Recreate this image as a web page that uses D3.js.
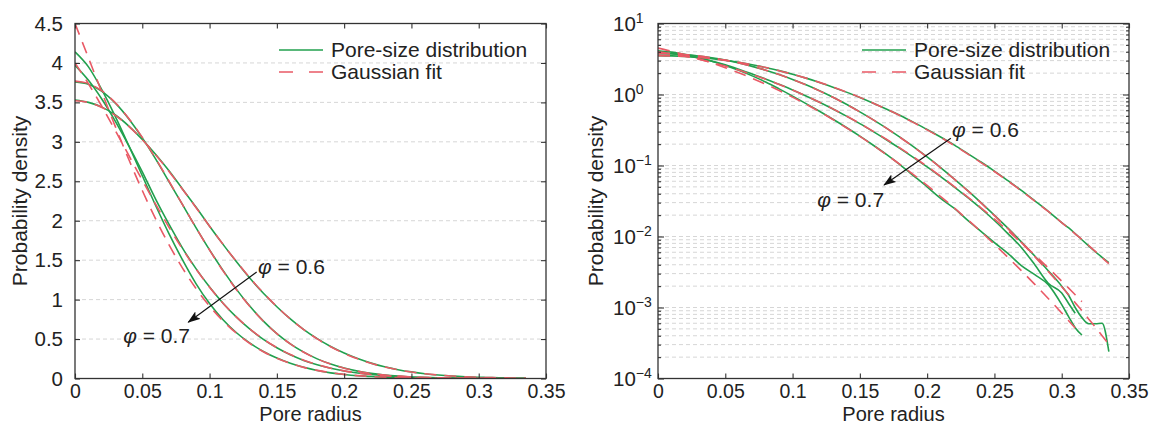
<!DOCTYPE html>
<html>
<head>
<meta charset="utf-8">
<script src="https://cdn.jsdelivr.net/npm/d3@7"></script>
<style>
  body { margin: 0; background: #fff; }
  text { font-family: "Liberation Sans", Arial, sans-serif; fill: #222; }
</style>
</head>
<body>
<svg id="chart" width="1153" height="425"></svg>
<script>
// pore radius grid (shared by every series)
const radius = [0,0.01,0.02,0.03,0.04,0.05,0.06,0.07,0.08,0.09,0.10,0.11,0.12,0.13,0.14,0.15,0.16,0.17,0.18,0.19,
  0.20,0.21,0.22,0.23,0.24,0.25,0.26,0.27,0.28,0.29,0.30,0.305,0.31,0.315,0.32,0.325,0.33,0.335];

// pore-size distributions, psd1 = phi 0.6 ... psd4 = phi 0.7
const psd1 = [3.53,3.50,3.44,3.34,3.20,3.03,2.84,2.63,2.40,2.17,1.93,1.70,1.48,1.27,1.08,0.91,0.755,0.62,0.505,0.405,
  0.322,0.252,0.195,0.148,0.112,0.0835,0.0612,0.0445,0.0318,0.0226,0.0157,0.0133,0.0110,0.0090,0.0074,0.0061,0.0051,0.0043];
const psd2 = [3.76,3.73,3.64,3.49,3.29,3.05,2.78,2.49,2.20,1.91,1.63,1.37,1.13,0.915,0.728,0.57,0.44,0.334,0.249,0.183,
  0.132,0.0935,0.0650,0.0446,0.0300,0.0199,0.0131,0.0084,0.0053,0.0033,0.0020,0.0015,0.0010,0.00072,0.00059,0.00059,0.00060,0.00024];
const psd3 = [3.97,3.78,3.54,3.26,2.95,2.62,2.27,1.95,1.65,1.39,1.16,0.955,0.778,0.625,0.496,0.389,0.300,0.229,0.173,0.129,
  0.0955,0.0695,0.0500,0.0355,0.0248,0.0168,0.0110,0.0070,0.0040,0.0022,0.0016,0.00115,0.00083,null,null,null,null,null];
const psd4 = [4.14,3.95,3.66,3.32,2.95,2.57,2.19,1.83,1.50,1.20,0.95,0.745,0.58,0.448,0.343,0.259,0.193,0.142,0.102,0.0715,
  0.0500,0.0345,0.0250,0.0170,0.0118,0.0082,0.0058,0.0039,0.0029,0.0021,0.0011,0.00075,0.00052,0.00041,null,null,null,null];

// gaussian fits
const fit1 = [3.52,3.499,3.436,3.335,3.197,3.028,2.834,2.622,2.397,2.165,1.930,1.701,1.482,1.275,1.084,0.911,0.755,0.620,0.502,0.402,
  0.318,0.249,0.192,0.146,0.110,0.0823,0.0605,0.0440,0.0316,0.0225,0.0157,0.0131,0.0109,0.00906,0.00747,0.00616,0.00505,0.00414];
const fit2 = [3.77,3.738,3.645,3.495,3.296,3.056,2.786,2.497,2.201,1.908,1.628,1.364,1.125,0.912,0.726,0.569,0.439,0.333,0.248,0.182,
  0.131,0.0929,0.0646,0.0443,0.0298,0.0197,0.0129,0.00826,0.00520,0.00322,0.00196,0.00152,0.00117,0.000905,0.00069,0.000528,0.000401,0.000303];
const fit3 = [4.0,3.736,3.448,3.141,2.827,2.513,2.206,1.913,1.638,1.386,1.158,0.955,0.778,0.627,0.498,0.391,0.303,0.232,0.176,0.131,
  0.0969,0.0706,0.0508,0.0361,0.0254,0.0176,0.0121,0.00818,0.00547,0.00361,0.00235,0.00189,0.00151,0.00121,null,null,null,null];
const fit4 = [4.5,4.065,3.626,3.193,2.776,2.383,2.020,1.690,1.397,1.139,0.918,0.730,0.573,0.444,0.340,0.257,0.192,0.141,0.103,0.0738,
  0.0523,0.0366,0.0254,0.0173,0.0117,0.00775,0.00509,0.0033,0.00212,0.00134,0.000836,0.000657,0.000515,null,null,null,null,null];

const xTicks = [0,0.05,0.1,0.15,0.2,0.25,0.3,0.35];
const linTicks = [0,0.5,1,1.5,2,2.5,3,3.5,4,4.5];
const logTicks = [1e-4,1e-3,1e-2,1e-1,1,10];
const legendLabels = ["Pore-size distribution", "Gaussian fit"];
const phiLabels = ["0.6", "0.7"];

const green = "#22a04e", red = "#e95a66", ink = "#333";
const plotTop = 23.5, plotBottom = 378.5, plotW = 471;
const svg = d3.select("#chart");

const defs = svg.append("defs");
defs.append("marker")
  .attr("id", "arrow").attr("viewBox", "0 0 13 9")
  .attr("refX", 12).attr("refY", 4.5)
  .attr("markerWidth", 13).attr("markerHeight", 9)
  .attr("markerUnits", "userSpaceOnUse").attr("orient", "auto")
  .append("path").attr("d", "M0,0 L13,4.5 L0,9 L3,4.5 Z").attr("fill", "#111");

function styleAxis(sel) {
  sel.select(".domain").remove();
  sel.selectAll(".tick line").attr("stroke", ink).attr("stroke-width", 1.1);
  sel.selectAll("text").style("font-size", "19.5px");
}

function drawPanel(p) {
  const left = p.left, right = left + plotW;
  const x = d3.scaleLinear().domain([0, 0.35]).range([left, right]);
  const y = p.log
    ? d3.scaleLog().domain([1e-4, 10]).range([plotBottom, plotTop])
    : d3.scaleLinear().domain([0, 4.5]).range([plotBottom, plotTop]);
  const g = svg.append("g");

  // grid
  let minor = [];
  if (p.log) {
    for (let k = -4; k < 1; k++) for (let m = 2; m < 10; m++) minor.push(m * Math.pow(10, k));
  }
  const gridVals = p.log ? minor.concat(logTicks.slice(1, -1)) : linTicks.slice(1, -1);
  g.append("g").selectAll("line").data(gridVals).join("line")
    .attr("x1", left).attr("x2", right)
    .attr("y1", d => y(d)).attr("y2", d => y(d))
    .attr("stroke", "#d6d6d6").attr("stroke-width", 1).attr("stroke-dasharray", "4,3");

  // curves
  const clipId = "clip" + left;
  defs.append("clipPath").attr("id", clipId).append("rect")
    .attr("x", left).attr("y", plotTop).attr("width", plotW).attr("height", plotBottom - plotTop);
  const line = d3.line()
    .defined(d => d[1] != null)
    .x(d => x(d[0])).y(d => y(d[1]))
    .curve(d3.curveMonotoneX);
  const curves = g.append("g").attr("clip-path", `url(#${clipId})`);
  [psd1, psd2, psd3, psd4].forEach(s => {
    curves.append("path").datum(radius.map((r, i) => [r, s[i]]))
      .attr("d", line).attr("fill", "none").attr("stroke", green).attr("stroke-width", 1.6);
  });
  [fit1, fit2, fit3, fit4].forEach(s => {
    curves.append("path").datum(radius.map((r, i) => [r, s[i]]))
      .attr("d", line).attr("fill", "none").attr("stroke", red).attr("stroke-width", 1.6)
      .attr("stroke-dasharray", "12,8");
  });

  // axes (ticks point inward)
  g.append("g").attr("transform", `translate(0,${plotBottom})`)
    .call(d3.axisBottom(x).tickValues(xTicks).tickSize(-5).tickPadding(6).tickFormat(d3.format("~g")))
    .call(styleAxis);
  g.append("g").attr("transform", `translate(0,${plotTop})`)
    .call(d3.axisTop(x).tickValues(xTicks).tickSize(-5).tickFormat(""))
    .call(styleAxis);

  if (p.log) {
    g.append("g").attr("transform", `translate(${left},0)`)
      .call(d3.axisLeft(y).tickValues(logTicks).tickSize(-6).tickFormat(""))
      .call(styleAxis);
    g.append("g").attr("transform", `translate(${left},0)`)
      .call(d3.axisLeft(y).tickValues(minor).tickSize(-3).tickFormat(""))
      .call(styleAxis);
    g.append("g").attr("transform", `translate(${right},0)`)
      .call(d3.axisRight(y).tickValues(logTicks).tickSize(-6).tickFormat(""))
      .call(styleAxis);
    g.append("g").attr("transform", `translate(${right},0)`)
      .call(d3.axisRight(y).tickValues(minor).tickSize(-3).tickFormat(""))
      .call(styleAxis);
    const lab = g.append("g").selectAll("text").data(logTicks).join("text")
      .attr("x", left - 45).attr("y", d => y(d)).attr("dy", "0.35em")
      .style("font-size", "20.5px");
    lab.append("tspan").text("10");
    lab.append("tspan").attr("dy", "-0.55em").style("font-size", "14px")
      .text(d => String(Math.round(Math.log10(d))).replace("-", "\u2212"));
  } else {
    g.append("g").attr("transform", `translate(${left},0)`)
      .call(d3.axisLeft(y).tickValues(linTicks).tickSize(-5).tickPadding(12).tickFormat(d3.format("~g")))
      .call(sel => { styleAxis(sel); sel.selectAll("text").style("font-size", "20.5px"); });
    g.append("g").attr("transform", `translate(${right},0)`)
      .call(d3.axisRight(y).tickValues(linTicks).tickSize(-5).tickFormat(""))
      .call(styleAxis);
  }

  // frame
  g.append("rect").attr("x", left).attr("y", plotTop).attr("width", plotW).attr("height", plotBottom - plotTop)
    .attr("fill", "none").attr("stroke", ink).attr("stroke-width", 1.3);

  // axis titles
  g.append("text").attr("x", (left + right) / 2).attr("y", 420.6)
    .attr("text-anchor", "middle").style("font-size", "20px").text("Pore radius");
  g.append("text").attr("transform", `translate(${left - p.titleOff},${(plotTop + plotBottom) / 2}) rotate(-90)`)
    .attr("text-anchor", "middle").style("font-size", "21px").text("Probability density");

  // legend
  const lg = g.append("g");
  lg.append("line").attr("x1", left + 204).attr("x2", left + 248).attr("y1", 50).attr("y2", 50)
    .attr("stroke", green).attr("stroke-width", 1.6);
  lg.append("line").attr("x1", left + 204).attr("x2", left + 248).attr("y1", 72).attr("y2", 72)
    .attr("stroke", red).attr("stroke-width", 1.6).attr("stroke-dasharray", "14,16");
  lg.selectAll("text").data(legendLabels).join("text")
    .attr("x", left + 256).attr("y", (d, i) => 57 + i * 22)
    .style("font-size", "21px").text(d => d);

  // phi annotations
  const a = p.ann;
  g.append("line")
    .attr("x1", x(a.from[0])).attr("y1", y(a.from[1]))
    .attr("x2", x(a.to[0])).attr("y2", y(a.to[1]))
    .attr("stroke", "#111").attr("stroke-width", 1.2).attr("marker-end", "url(#arrow)");
  [[a.t06, "start"], [a.t07, "end"]].forEach(([pos, anchor], i) => {
    const t = g.append("text").attr("x", x(pos[0])).attr("y", y(pos[1]))
      .attr("text-anchor", anchor).style("font-size", "21px");
    t.append("tspan").style("font-style", "italic").text("\u03c6");
    t.append("tspan").text(" = " + phiLabels[i]);
  });
}

drawPanel({
  left: 75, log: false, titleOff: 48,
  ann: { from: [0.135, 1.35], to: [0.0842, 0.714], t06: [0.136, 1.33], t07: [0.0855, 0.444] }
});
drawPanel({
  left: 658, log: true, titleOff: 55,
  ann: { from: [0.2176, 0.242], to: [0.168, 0.0531], t06: [0.2185, 0.252], t07: [0.168, 0.026] }
});
</script>
</body>
</html>
